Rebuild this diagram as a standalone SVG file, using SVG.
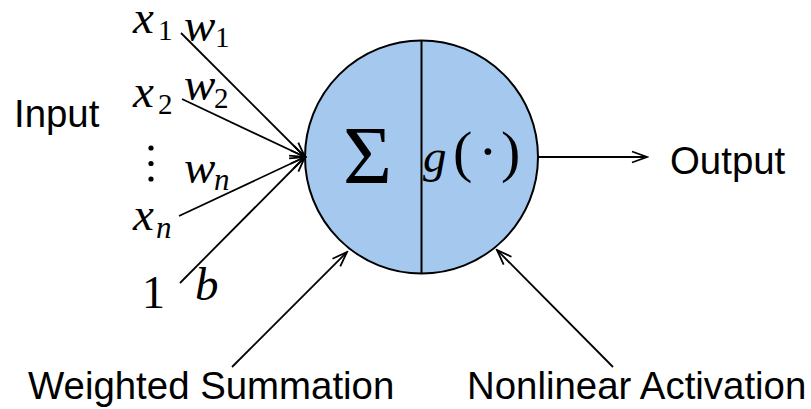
<svg xmlns="http://www.w3.org/2000/svg" width="811" height="409" viewBox="0 0 811 409">
<style>
.lbl{font-family:"Liberation Sans",Arial,sans-serif;font-size:38.4px;fill:#000}
.m{font-family:"Liberation Serif","Times New Roman",serif;font-style:italic;font-size:47px;fill:#000}
.s{font-family:"Liberation Serif","Times New Roman",serif;font-size:29px;fill:#000}
.si{font-family:"Liberation Serif","Times New Roman",serif;font-style:italic;font-size:31px;fill:#000}
.up{font-family:"Liberation Serif","Times New Roman",serif;fill:#000}
.c{stroke:#000;stroke-width:1.8;fill:none}
</style>
<defs>
<marker id="arr" viewBox="-16 -7 18 14" refX="0" refY="0" markerWidth="18" markerHeight="14" markerUnits="userSpaceOnUse" orient="auto">
<path d="M-15,-5.5 L0,0 L-15,5.5" fill="none" stroke="#000" stroke-width="1.8"/>
</marker>
</defs>
<rect width="811" height="409" fill="#fff"/>
<g id="neuron">
<circle cx="421.5" cy="157" r="116.5" fill="#a4c8ee" stroke="#000" stroke-width="2"/>
<line x1="421.5" y1="40.5" x2="421.5" y2="273.5" stroke="#000" stroke-width="2"/>
<text class="up" x="343" y="183" font-size="82" textLength="49" lengthAdjust="spacingAndGlyphs">Σ</text>
<text class="m" x="423" y="172" font-size="57">g</text>
<text class="up" x="453" y="171" font-size="58">(</text>
<text class="up" x="488" y="171" font-size="58" text-anchor="middle">·</text>
<text class="up" x="501" y="171" font-size="58">)</text>
</g>
<g id="connectors">
<line class="c" x1="181" y1="33" x2="305" y2="157" marker-end="url(#arr)"/>
<line class="c" x1="182" y1="99" x2="305" y2="157" marker-end="url(#arr)"/>
<line class="c" x1="179" y1="216" x2="305" y2="157" marker-end="url(#arr)"/>
<line class="c" x1="180" y1="283" x2="305" y2="157" marker-end="url(#arr)"/>
<line class="c" x1="538" y1="157" x2="647" y2="157" marker-end="url(#arr)"/>
<line class="c" x1="232" y1="367" x2="347" y2="252" marker-end="url(#arr)"/>
<line class="c" x1="613" y1="367" x2="497" y2="250" marker-end="url(#arr)"/>
</g>
<g id="input-labels">
<text class="m" x="133" y="33">x</text><text class="s" x="158" y="40">1</text>
<text class="m" x="184" y="41">w</text><text class="s" x="215" y="47">1</text>
<text class="m" x="133" y="107">x</text><text class="s" x="158" y="114">2</text>
<text class="m" x="184" y="100">w</text><text class="s" x="214" y="108">2</text>
<circle cx="151" cy="148" r="2.6" fill="#000"/>
<circle cx="151" cy="163.5" r="2.6" fill="#000"/>
<circle cx="151" cy="179" r="2.6" fill="#000"/>
<text class="m" x="184" y="183">w</text><text class="si" x="214" y="190">n</text>
<text class="m" x="133" y="230">x</text><text class="si" x="156" y="238">n</text>
<text class="up" x="142" y="308" font-size="46">1</text>
<text class="m" x="195" y="300">b</text>
</g>
<g id="text-labels">
<text class="lbl" x="14" y="127">Input</text>
<text class="lbl" x="670" y="174">Output</text>
<text class="lbl" x="28" y="399">Weighted Summation</text>
<text class="lbl" x="467" y="399">Nonlinear Activation</text>
</g>
</svg>
